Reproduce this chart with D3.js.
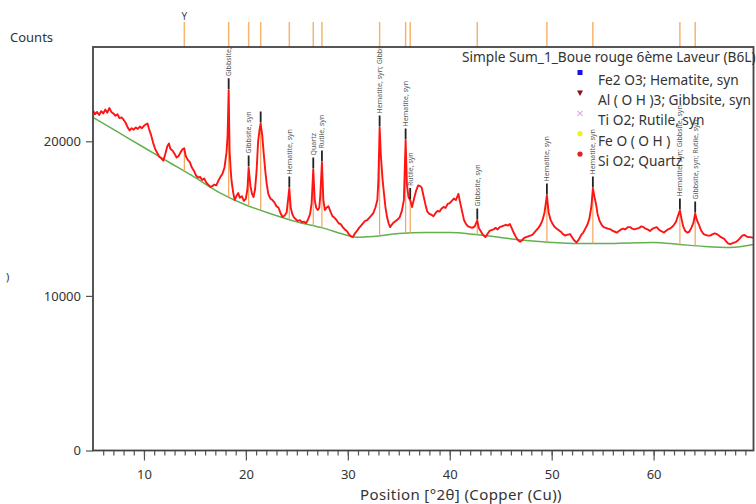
<!DOCTYPE html>
<html>
<head>
<meta charset="utf-8">
<script src="https://cdn.jsdelivr.net/npm/d3@7"></script>
<style>
  body { margin: 0; background: #fff; }
  text { font-family: "Noto Sans", "Open Sans", sans-serif; }
</style>
</head>
<body>
<svg id="chart" width="756" height="504"></svg>
<script>
    // measured profile, [position 2theta, counts]
    var profile = [
      [5.0,22000],[5.2,21750],[5.4,21900],[5.6,21700],[5.8,21950],[6.0,21800],[6.2,22050],[6.4,21850],
      [6.6,22150],[6.8,21900],[7.0,21800],[7.2,21650],[7.4,21750],[7.6,21500],[7.8,21550],[8.0,21400],
      [8.2,21200],[8.4,20900],[8.6,20700],[8.8,20850],[9.0,20750],[9.2,20900],[9.4,20800],[9.6,20950],
      [9.8,20850],[10.0,21000],[10.2,21100],[10.35,21150],[10.5,20800],[10.7,20400],[10.9,19900],[11.1,19500],
      [11.3,19250],[11.5,19000],[11.7,18900],[11.9,18750],[12.1,19200],[12.3,19700],[12.45,19850],[12.6,19500],
      [12.8,19400],[13.0,19200],[13.2,18950],[13.4,19050],[13.6,19300],[13.8,19500],[13.95,19550],[14.1,19050],
      [14.3,18800],[14.5,18650],[14.7,18300],[14.9,18100],[15.1,17800],[15.3,17650],[15.5,17700],[15.7,17500],
      [15.9,17600],[16.1,17350],[16.3,17200],[16.5,17050],[16.7,17100],[16.9,17200],[17.1,17150],[17.3,17450],
      [17.5,17700],[17.7,17900],[17.9,18300],[18.1,19300],[18.2,20300],[18.31,23300],[18.4,19400],[18.5,18200],
      [18.6,17400],[18.75,16700],[18.9,16200],[19.1,16500],[19.25,16650],[19.4,16350],[19.6,16450],[19.8,16150],
      [20.0,16300],[20.15,16900],[20.27,18300],[20.45,17100],[20.6,16600],[20.75,16400],[20.9,16900],[21.05,18100],
      [21.2,20000],[21.35,20800],[21.45,21150],[21.6,20400],[21.75,19200],[21.9,18100],[22.05,17200],[22.2,16600],
      [22.4,16300],[22.6,16200],[22.8,16050],[23.0,15800],[23.2,15700],[23.4,15350],[23.6,15100],[23.8,15200],
      [24.0,15400],[24.15,16300],[24.26,16950],[24.4,15700],[24.55,15300],[24.7,15100],[24.9,14950],[25.1,14850],
      [25.3,14900],[25.5,14750],[25.7,14800],[25.9,14700],[26.1,14950],[26.3,15300],[26.45,16000],[26.61,18180],
      [26.75,16200],[26.9,15700],[27.05,15550],[27.2,15700],[27.3,16500],[27.46,18630],[27.6,16200],[27.75,15550],
      [27.9,15700],[28.1,15800],[28.3,15450],[28.5,15150],[28.7,15050],[28.9,14900],[29.1,14700],[29.3,14650],
      [29.5,14450],[29.7,14300],[29.9,14200],[30.1,14000],[30.3,13850],[30.5,13800],[30.7,14050],[30.9,14200],
      [31.1,14400],[31.3,14550],[31.5,14700],[31.7,14850],[31.9,14900],[32.1,15050],[32.3,15200],[32.5,15350],
      [32.7,15700],[32.9,16200],[33.0,17500],[33.12,20900],[33.25,19000],[33.4,17600],[33.55,16600],[33.7,15700],
      [33.85,15100],[34.0,14700],[34.15,14450],[34.3,14600],[34.5,14750],[34.7,14850],[34.9,14950],[35.1,15100],
      [35.3,15500],[35.5,16200],[35.67,20060],[35.8,17200],[35.95,16400],[36.12,16200],[36.3,15750],[36.5,16300],
      [36.7,16800],[36.9,17150],[37.1,17100],[37.25,17000],[37.45,16400],[37.6,15950],[37.8,15450],[38.0,15300],
      [38.2,15250],[38.4,15150],[38.6,15350],[38.8,15500],[39.0,15450],[39.2,15650],[39.4,15750],[39.6,15700],
      [39.8,15950],[40.0,16000],[40.2,16150],[40.4,16300],[40.6,16200],[40.85,16600],[41.0,16100],[41.2,15500],
      [41.4,14900],[41.6,14650],[41.8,14500],[42.0,14450],[42.2,14400],[42.45,14500],[42.7,14880],[42.85,14400],
      [43.0,14230],[43.2,14000],[43.5,13800],[43.7,14000],[43.9,14200],[44.1,14250],[44.3,14300],[44.5,14400],
      [44.7,14300],[44.9,14450],[45.1,14500],[45.3,14550],[45.5,14600],[45.7,14550],[45.9,14650],[46.1,14350],
      [46.3,14050],[46.5,13800],[46.7,13600],[46.9,13500],[47.1,13600],[47.3,13750],[47.5,13800],[47.7,13850],
      [47.9,13900],[48.1,13950],[48.3,14100],[48.5,14250],[48.7,14400],[48.9,14600],[49.1,14900],[49.3,15400],
      [49.53,16500],[49.7,15400],[49.9,14900],[50.1,14650],[50.3,14450],[50.5,14350],[50.7,14250],[50.9,14150],
      [51.1,14000],[51.3,13900],[51.5,13950],[51.8,14000],[52.0,13800],[52.2,13600],[52.45,13450],[52.7,13700],
      [52.9,13950],[53.1,14100],[53.3,14350],[53.5,14600],[53.7,15000],[53.9,15800],[54.04,16950],[54.2,16400],
      [54.35,15950],[54.5,15300],[54.7,14850],[54.9,14600],[55.1,14450],[55.3,14400],[55.5,14350],[55.8,14300],
      [56.0,14200],[56.2,14150],[56.4,14100],[56.6,14200],[56.8,14300],[57.0,14350],[57.2,14300],[57.5,14450],
      [57.7,14450],[57.9,14350],[58.1,14300],[58.35,14350],[58.6,14400],[58.8,14500],[59.0,14450],[59.2,14350],
      [59.4,14300],[59.65,14200],[59.9,14350],[60.1,14400],[60.3,14450],[60.5,14300],[60.7,14200],[61.0,14100],
      [61.2,14200],[61.4,14300],[61.6,14350],[61.8,14450],[62.0,14600],[62.2,14800],[62.4,15200],[62.58,15530],
      [62.75,14950],[62.9,14500],[63.1,14200],[63.3,14100],[63.5,14150],[63.7,14400],[63.9,14700],[64.08,15330],
      [64.25,14900],[64.45,14600],[64.65,14250],[64.9,14000],[65.1,13950],[65.3,13900],[65.55,13900],[65.8,14000],
      [66.0,14050],[66.2,14000],[66.4,13900],[66.6,13800],[66.9,13700],[67.1,13550],[67.3,13400],[67.5,13350],
      [67.7,13400],[67.9,13450],[68.1,13500],[68.3,13600],[68.5,13750],[68.7,13900],[68.9,13950],[69.1,13850],
      [69.3,13800],[69.5,13800],[69.8,13750]
    ];

    // fitted background (green)
    var background = [
      [5.0,21550],[7.5,20575],[10,19600],[12.5,18630],[15,17660],[17.5,16650],[20,15880],[22.5,15300],
      [25,14790],[27.5,14400],[30,13910],[30.8,13800],[32.5,13850],[35,14040],[37.5,14100],[40,14100],
      [42.5,13975],[45,13780],[47.5,13590],[50,13460],[52.5,13390],[55,13390],[57.5,13425],[60,13460],
      [62.5,13330],[65,13200],[67.5,13134],[69.8,13330]
    ];

    // reference peak positions and labels
    var refAngles = [13.96, 18.31, 20.27, 21.45, 24.26, 26.61, 27.46, 33.12, 35.67, 36.12, 42.70, 49.53, 54.04, 62.58, 64.08];
    var refLabels = ["", "Gibbsite, syn", "Gibbsite, syn", "", "Hematite, syn", "Quartz", "Rutile, syn",
                     "Hematite, syn; Gibbsite, syn", "Hematite, syn", "Rutile, syn", "Gibbsite, syn",
                     "Hematite, syn", "Hematite, syn", "Hematite, syn; Gibbsite, syn", "Gibbsite, syn; Rutile, syn"];
    var refMarked = [false, true, true, true, true, true, true, true, true, true, true, true, true, true, true];

    var xTicks = [10, 20, 30, 40, 50, 60];
    var yTicks = [0, 10000, 20000];

    var legendTitle = "Simple Sum_1_Boue rouge 6ème Laveur (B6L)";
    var legendNames = ["Fe2 O3; Hematite, syn", "Al ( O H )3; Gibbsite, syn", "Ti O2; Rutile, syn", "Fe O ( O H )", "Si O2; Quartz"];
    var legendSymbols = ["square", "triangle", "cross", "circle", "circle"];
    var legendColors = ["#1414e6", "#8b1010", "#e6a6f0", "#f2f21a", "#e61e1e"];

    var svg = d3.select("#chart");
    var plotLeft = 93, plotRight = 753.5, plotTop = 47, plotBottom = 450.5;

    var x = d3.scaleLinear().domain([5, 69.8]).range([plotLeft, plotRight]);
    var y = d3.scaleLinear().domain([0, 26100]).range([plotBottom, plotTop]);

    svg.append("defs").append("clipPath").attr("id", "plotclip")
      .append("rect").attr("x", plotLeft).attr("y", plotTop)
      .attr("width", plotRight - plotLeft).attr("height", plotBottom - plotTop);

    // top strip of reference positions
    svg.append("g").selectAll("line").data(refAngles).enter().append("line")
      .attr("x1", function (d) { return x(d); }).attr("x2", function (d) { return x(d); })
      .attr("y1", 22).attr("y2", plotTop)
      .attr("stroke", "#f7b46e").attr("stroke-width", 1.5);
    svg.append("text").attr("x", x(refAngles[0])).attr("y", 20)
      .attr("text-anchor", "middle").attr("font-size", 10).attr("fill", "#444").text("Y");

    function lookup ( arr, a ) {
      // value at a reference angle, between the two nearest readings
      var i = d3.bisector(function (d) { return d[0]; }).left(arr, a);
      if ( i <= 0 ) return arr[0][1];
      if ( i >= arr.length ) return arr[arr.length - 1][1];
      var p = arr[i - 1], q = arr[i];
      var t = (a - p[0]) / (q[0] - p[0]);
      return p[1] + t * (q[1] - p[1]);
    }

    var plot = svg.append("g").attr("clip-path", "url(#plotclip)");

    var bgLine = d3.line().x(function (d) { return x(d[0]); }).y(function (d) { return y(d[1]); }).curve(d3.curveMonotoneX);
    plot.append("path").attr("d", bgLine(background))
      .attr("fill", "none").attr("stroke", "#62b04e").attr("stroke-width", 1.5);

    // orange sticks from background up to the peak
    plot.append("g").selectAll("line").data(refAngles).enter().append("line")
      .attr("x1", function (d) { return x(d); }).attr("x2", function (d) { return x(d); })
      .attr("y1", function (d) { return y(lookup(background, d)); })
      .attr("y2", function (d) { return y(lookup(profile, d)); })
      .attr("stroke", "#f5a45a").attr("stroke-width", 1.2);

    var line = d3.line().x(function (d) { return x(d[0]); }).y(function (d) { return y(d[1]); });
    plot.append("path").attr("d", line(profile))
      .attr("fill", "none").attr("stroke", "#ff1414").attr("stroke-width", 1.9).attr("stroke-linejoin", "round");

    // black markers and rotated labels
    for ( var i = 0 ; i < refAngles.length ; i++ ) {
      if ( !refMarked[i] ) continue;
      var px = x(refAngles[i]);
      var py = y(lookup(profile, refAngles[i]));
      plot.append("line").attr("x1", px).attr("x2", px).attr("y1", py - 1).attr("y2", py - 12)
        .attr("stroke", "#222").attr("stroke-width", 1.8);
      if ( refLabels[i] != "" )
        plot.append("text").attr("transform", "translate(" + (px + 2.4) + "," + (py - 14) + ") rotate(-90)")
          .attr("font-size", 7).attr("fill", "#555").text(refLabels[i]);
    }

    // axes
    svg.append("g").attr("transform", "translate(0," + plotBottom + ")")
      .call(d3.axisBottom(x).tickValues(xTicks).tickSize(10).tickPadding(9).tickFormat(d3.format("d")));
    svg.append("g").attr("transform", "translate(0," + plotBottom + ")")
      .call(d3.axisBottom(x).tickValues(d3.range(6, 70)).tickSize(5).tickFormat(""));
    svg.append("g").attr("transform", "translate(" + plotLeft + ",0)")
      .call(d3.axisLeft(y).tickValues(yTicks).tickSize(7).tickPadding(5).tickFormat(d3.format("d")));

    svg.selectAll(".domain").remove();
    svg.selectAll(".tick line").attr("stroke", "#555").attr("stroke-width", 1.2);
    svg.selectAll(".tick text").attr("font-size", 13).attr("fill", "#333")
      .style("font-family", "'Noto Sans', sans-serif");

    svg.append("rect").attr("x", plotLeft).attr("y", plotTop)
      .attr("width", plotRight - plotLeft).attr("height", plotBottom - plotTop)
      .attr("fill", "none").attr("stroke", "#444").attr("stroke-width", 1.8);

    svg.append("text").attr("x", 10).attr("y", 42).attr("font-size", 13).attr("fill", "#333").text("Counts");
    svg.append("text").attr("x", 6).attr("y", 281).attr("font-size", 11).attr("fill", "#333").text(")");
    svg.append("text").attr("x", 461).attr("y", 500).attr("text-anchor", "middle")
      .attr("font-size", 15).attr("letter-spacing", 0.4).attr("fill", "#333").text("Position [°2θ] (Copper (Cu))");

    // legend
    svg.append("text").attr("x", 462).attr("y", 62).attr("font-size", 13.7).attr("fill", "#333").text(legendTitle);
    var lg = svg.append("g");
    for ( var j = 0 ; j < legendNames.length ; j++ ) {
      var ty = 84.5 + j * 20.4;
      var my = ty - 12;
      var sym = legendSymbols[j];
      if ( sym == "square" )
        lg.append("rect").attr("x", 577.5).attr("y", my - 2.5).attr("width", 5).attr("height", 5).attr("fill", legendColors[j]);
      else if ( sym == "triangle" )
        lg.append("path").attr("d", "M577," + (my - 2.5) + "L583," + (my - 2.5) + "L580," + (my + 3) + "Z").attr("fill", legendColors[j]);
      else if ( sym == "cross" )
        lg.append("path").attr("d", "M577.5," + (my - 2.5) + "L582.5," + (my + 2.5) + "M582.5," + (my - 2.5) + "L577.5," + (my + 2.5))
          .attr("stroke", legendColors[j]).attr("stroke-width", 1.2);
      else
        lg.append("circle").attr("cx", 580).attr("cy", my).attr("r", 2.6).attr("fill", legendColors[j]);
      lg.append("text").attr("x", 598).attr("y", ty).attr("font-size", 13.7).attr("fill", "#333").text(legendNames[j]);
    }
</script>
</body>
</html>
